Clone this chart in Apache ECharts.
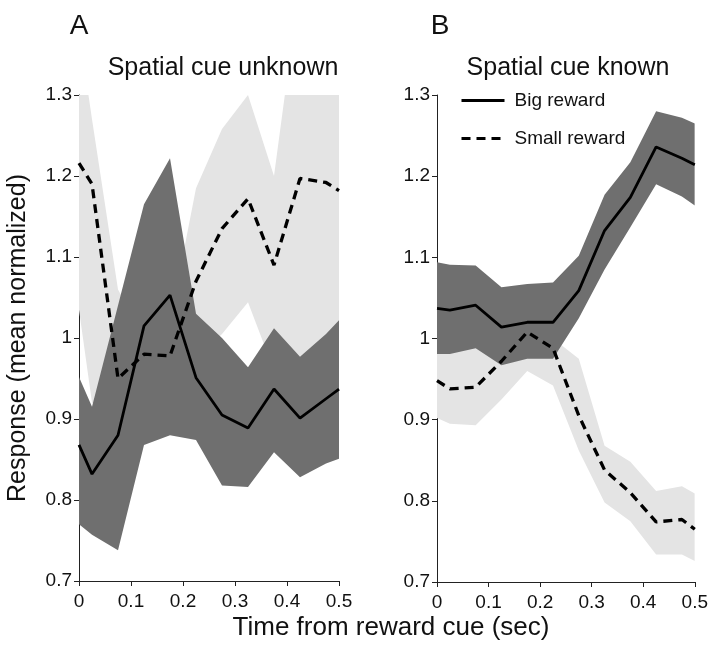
<!DOCTYPE html>
<html>
<head>
<meta charset="utf-8">
<script src="https://cdn.jsdelivr.net/npm/echarts@6/dist/echarts.min.js"></script>
<style>
  html, body { margin: 0; padding: 0; background: #fff; }
  #chart { width: 711px; height: 645px; }
</style>
</head>
<body>
<div id="chart"></div>
<script>
// time points (sec from reward cue)
const times = [0, 0.025, 0.075, 0.125, 0.175, 0.225, 0.275, 0.325, 0.375, 0.425, 0.475, 0.5];

// panel A - spatial cue unknown
const bigMeanA   = [0.868, 0.832, 0.880, 1.015, 1.053, 0.951, 0.905, 0.889, 0.937, 0.901, 0.925, 0.937];
const bigUpperA  = [0.952, 0.915, 1.040, 1.165, 1.222, 1.030, 1.000, 0.964, 1.012, 0.977, 1.005, 1.022];
const bigLowerA  = [0.770, 0.757, 0.738, 0.868, 0.880, 0.874, 0.818, 0.816, 0.859, 0.828, 0.845, 0.851];
const smallMeanA  = [1.216, 1.190, 0.950, 0.980, 0.978, 1.070, 1.135, 1.172, 1.090, 1.197, 1.192, 1.182];
const smallUpperA = [1.380, 1.270, 1.060, 1.000, 1.020, 1.185, 1.258, 1.300, 1.200, 1.440, 1.450, 1.450];
const smallLowerA = [1.035, 0.920, 0.900, 0.930, 0.950, 0.975, 1.005, 1.044, 0.960, 0.950, 0.960, 0.970];

// panel B - spatial cue known
const bigMeanB   = [1.037, 1.035, 1.041, 1.014, 1.020, 1.020, 1.059, 1.133, 1.174, 1.236, 1.222, 1.214];
const bigUpperB  = [1.094, 1.091, 1.090, 1.063, 1.067, 1.069, 1.102, 1.177, 1.217, 1.280, 1.272, 1.265];
const bigLowerB  = [0.981, 0.981, 0.988, 0.967, 0.975, 0.975, 1.025, 1.085, 1.137, 1.190, 1.175, 1.164];
const smallMeanB  = [0.948, 0.938, 0.940, 0.972, 1.008, 0.988, 0.905, 0.838, 0.810, 0.774, 0.777, 0.765];
const smallUpperB = [1.000, 1.000, 1.000, 1.000, 1.040, 1.000, 0.975, 0.868, 0.848, 0.812, 0.818, 0.809];
const smallLowerB = [0.902, 0.895, 0.893, 0.925, 0.960, 0.942, 0.862, 0.798, 0.775, 0.734, 0.734, 0.726];

const xRange = [0, 0.5];
const yRange = [0.7, 1.3];

const FONT = 'Liberation Sans';
const DARK = '#6f6f6f';
const LIGHT = '#e4e4e4';

function pairs(vals) {
  return times.map((t, i) => [t, vals[i]]);
}

// shaded SEM band: one polygon, upper edge then lower edge back, clipped to the grid
function band(idx, lower, upper, color) {
  return {
    type: 'custom',
    xAxisIndex: idx, yAxisIndex: idx,
    silent: true,
    data: times.map((t, i) => [t, lower[i], upper[i]]),
    renderItem: function (params, api) {
      if (params.dataIndex !== 0) return;
      const top = times.map((t, i) => api.coord([t, upper[i]]));
      const bottom = times.map((t, i) => api.coord([t, lower[i]])).reverse();
      const cs = params.coordSys;
      return {
        type: 'group',
        clipPath: { type: 'rect', shape: { x: cs.x, y: cs.y, width: cs.width, height: cs.height } },
        children: [{
          type: 'polygon',
          shape: { points: top.concat(bottom) },
          style: { fill: color }
        }]
      };
    }
  };
}

function meanLine(name, idx, vals, dashed) {
  return {
    type: 'line', name: name,
    xAxisIndex: idx, yAxisIndex: idx,
    data: pairs(vals), symbol: 'none',
    lineStyle: { color: '#000', width: dashed ? 3.3 : 2.8, type: dashed ? [9, 6] : 'solid' },
    itemStyle: { color: '#000' }
  };
}

function xAxis(idx) {
  return {
    type: 'value', gridIndex: idx, min: xRange[0], max: xRange[1], interval: 0.1,
    axisLine: { lineStyle: { color: '#222', width: 1 } },
    axisTick: { length: 5, lineStyle: { color: '#222' } },
    axisLabel: { fontFamily: FONT, fontSize: 19, color: '#111', margin: 11 },
    splitLine: { show: false }
  };
}

function yAxis(idx, name) {
  return {
    type: 'value', gridIndex: idx, min: yRange[0], max: yRange[1], interval: 0.1,
    name: name, nameLocation: 'middle', nameGap: 48,
    nameTextStyle: { fontFamily: FONT, fontSize: 25, color: '#111' },
    axisLine: { show: true, lineStyle: { color: '#222', width: 1 } },
    axisTick: { show: true, length: 5, lineStyle: { color: '#222' } },
    axisLabel: { fontFamily: FONT, fontSize: 19, color: '#111', margin: 7 },
    splitLine: { show: false }
  };
}

function label(text, x, y, size, align) {
  return {
    type: 'text', x: x, y: y,
    style: { text: text, font: size + 'px "' + FONT + '"', fill: '#111',
             textAlign: align || 'center', textVerticalAlign: 'middle' }
  };
}

const chart = echarts.init(document.getElementById('chart'));

chart.setOption({
  animation: false,
  backgroundColor: '#fff',
  grid: [
    { left: 79, top: 95, width: 260, height: 486 },
    { left: 437, top: 95, width: 260, height: 487 }
  ],
  xAxis: [xAxis(0), xAxis(1)],
  yAxis: [yAxis(0, 'Response (mean normalized)'), yAxis(1, '')],
  legend: {
    data: ['Big reward', 'Small reward'],
    orient: 'vertical', left: 455, top: 86,
    itemWidth: 43, itemHeight: 20, itemGap: 19,
    selectedMode: false,
    itemStyle: { opacity: 0 },
    lineStyle: { width: 3 },
    textStyle: { fontFamily: FONT, fontSize: 19, color: '#111', padding: [0, 0, 0, 5] }
  },
  graphic: [
    label('A', 79, 26, 28),
    label('B', 440, 26, 28),
    label('Spatial cue unknown', 223, 68, 25),
    label('Spatial cue known', 568, 68, 25),
    label('Time from reward cue (sec)', 391, 628, 26)
  ],
  series: [
    band(0, smallLowerA, smallUpperA, LIGHT),
    band(0, bigLowerA, bigUpperA, DARK),
    band(1, smallLowerB, smallUpperB, LIGHT),
    band(1, bigLowerB, bigUpperB, DARK),
    meanLine('Big reward', 0, bigMeanA, false),
    meanLine('Small reward', 0, smallMeanA, true),
    meanLine('Big reward', 1, bigMeanB, false),
    meanLine('Small reward', 1, smallMeanB, true)
  ]
});
</script>
</body>
</html>
